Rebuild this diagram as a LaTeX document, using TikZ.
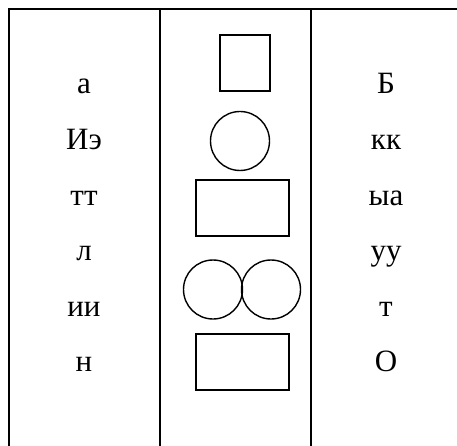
\documentclass[tikz,border=0pt]{standalone}
\usepackage{fontspec}
\setmainfont{Liberation Serif}
\usepackage{tikz}
\usetikzlibrary{positioning}

\tikzset{letter/.style={anchor=base, inner sep=0pt, font=\fontsize{31}{37}\selectfont}}

\begin{document}
\begin{tikzpicture}[x=1pt,y=-1pt,line width=1.4pt]
\useasboundingbox (0,0) rectangle (457,446);

\draw (9,446)--(9,9)--(457,9);
\draw (160,9)--(160,446);
\draw (311,9)--(311,446);

\node[letter] (la) at (84,94) {а};
\node[letter] (lb) at (84,149.5) {Иэ};
\node[letter] (lc) at (84,205) {тт};
\node[letter] (ld) at (84,260.5) {л};
\node[letter] (le) at (84,316) {ии};
\node[letter] (lf) at (84,371.5) {н};

\node[letter] (ra) at (386,94) {Б};
\node[letter] (rb) at (386,149.5) {кк};
\node[letter] (rc) at (386,205) {ыа};
\node[letter] (rd) at (386,260.5) {уу};
\node[letter] (re) at (386,316) {т};
\node[letter] (rf) at (386,371.5) {О};

\draw (220,35) rectangle (270,91);
\draw (240,141) circle (29.5);
\draw (196,180) rectangle (289,236);

\draw (213,289.5) circle (29.5);
\draw (271,289.5) circle (29.5);
\draw (196,334) rectangle (289,390);

\end{tikzpicture}
\end{document}
